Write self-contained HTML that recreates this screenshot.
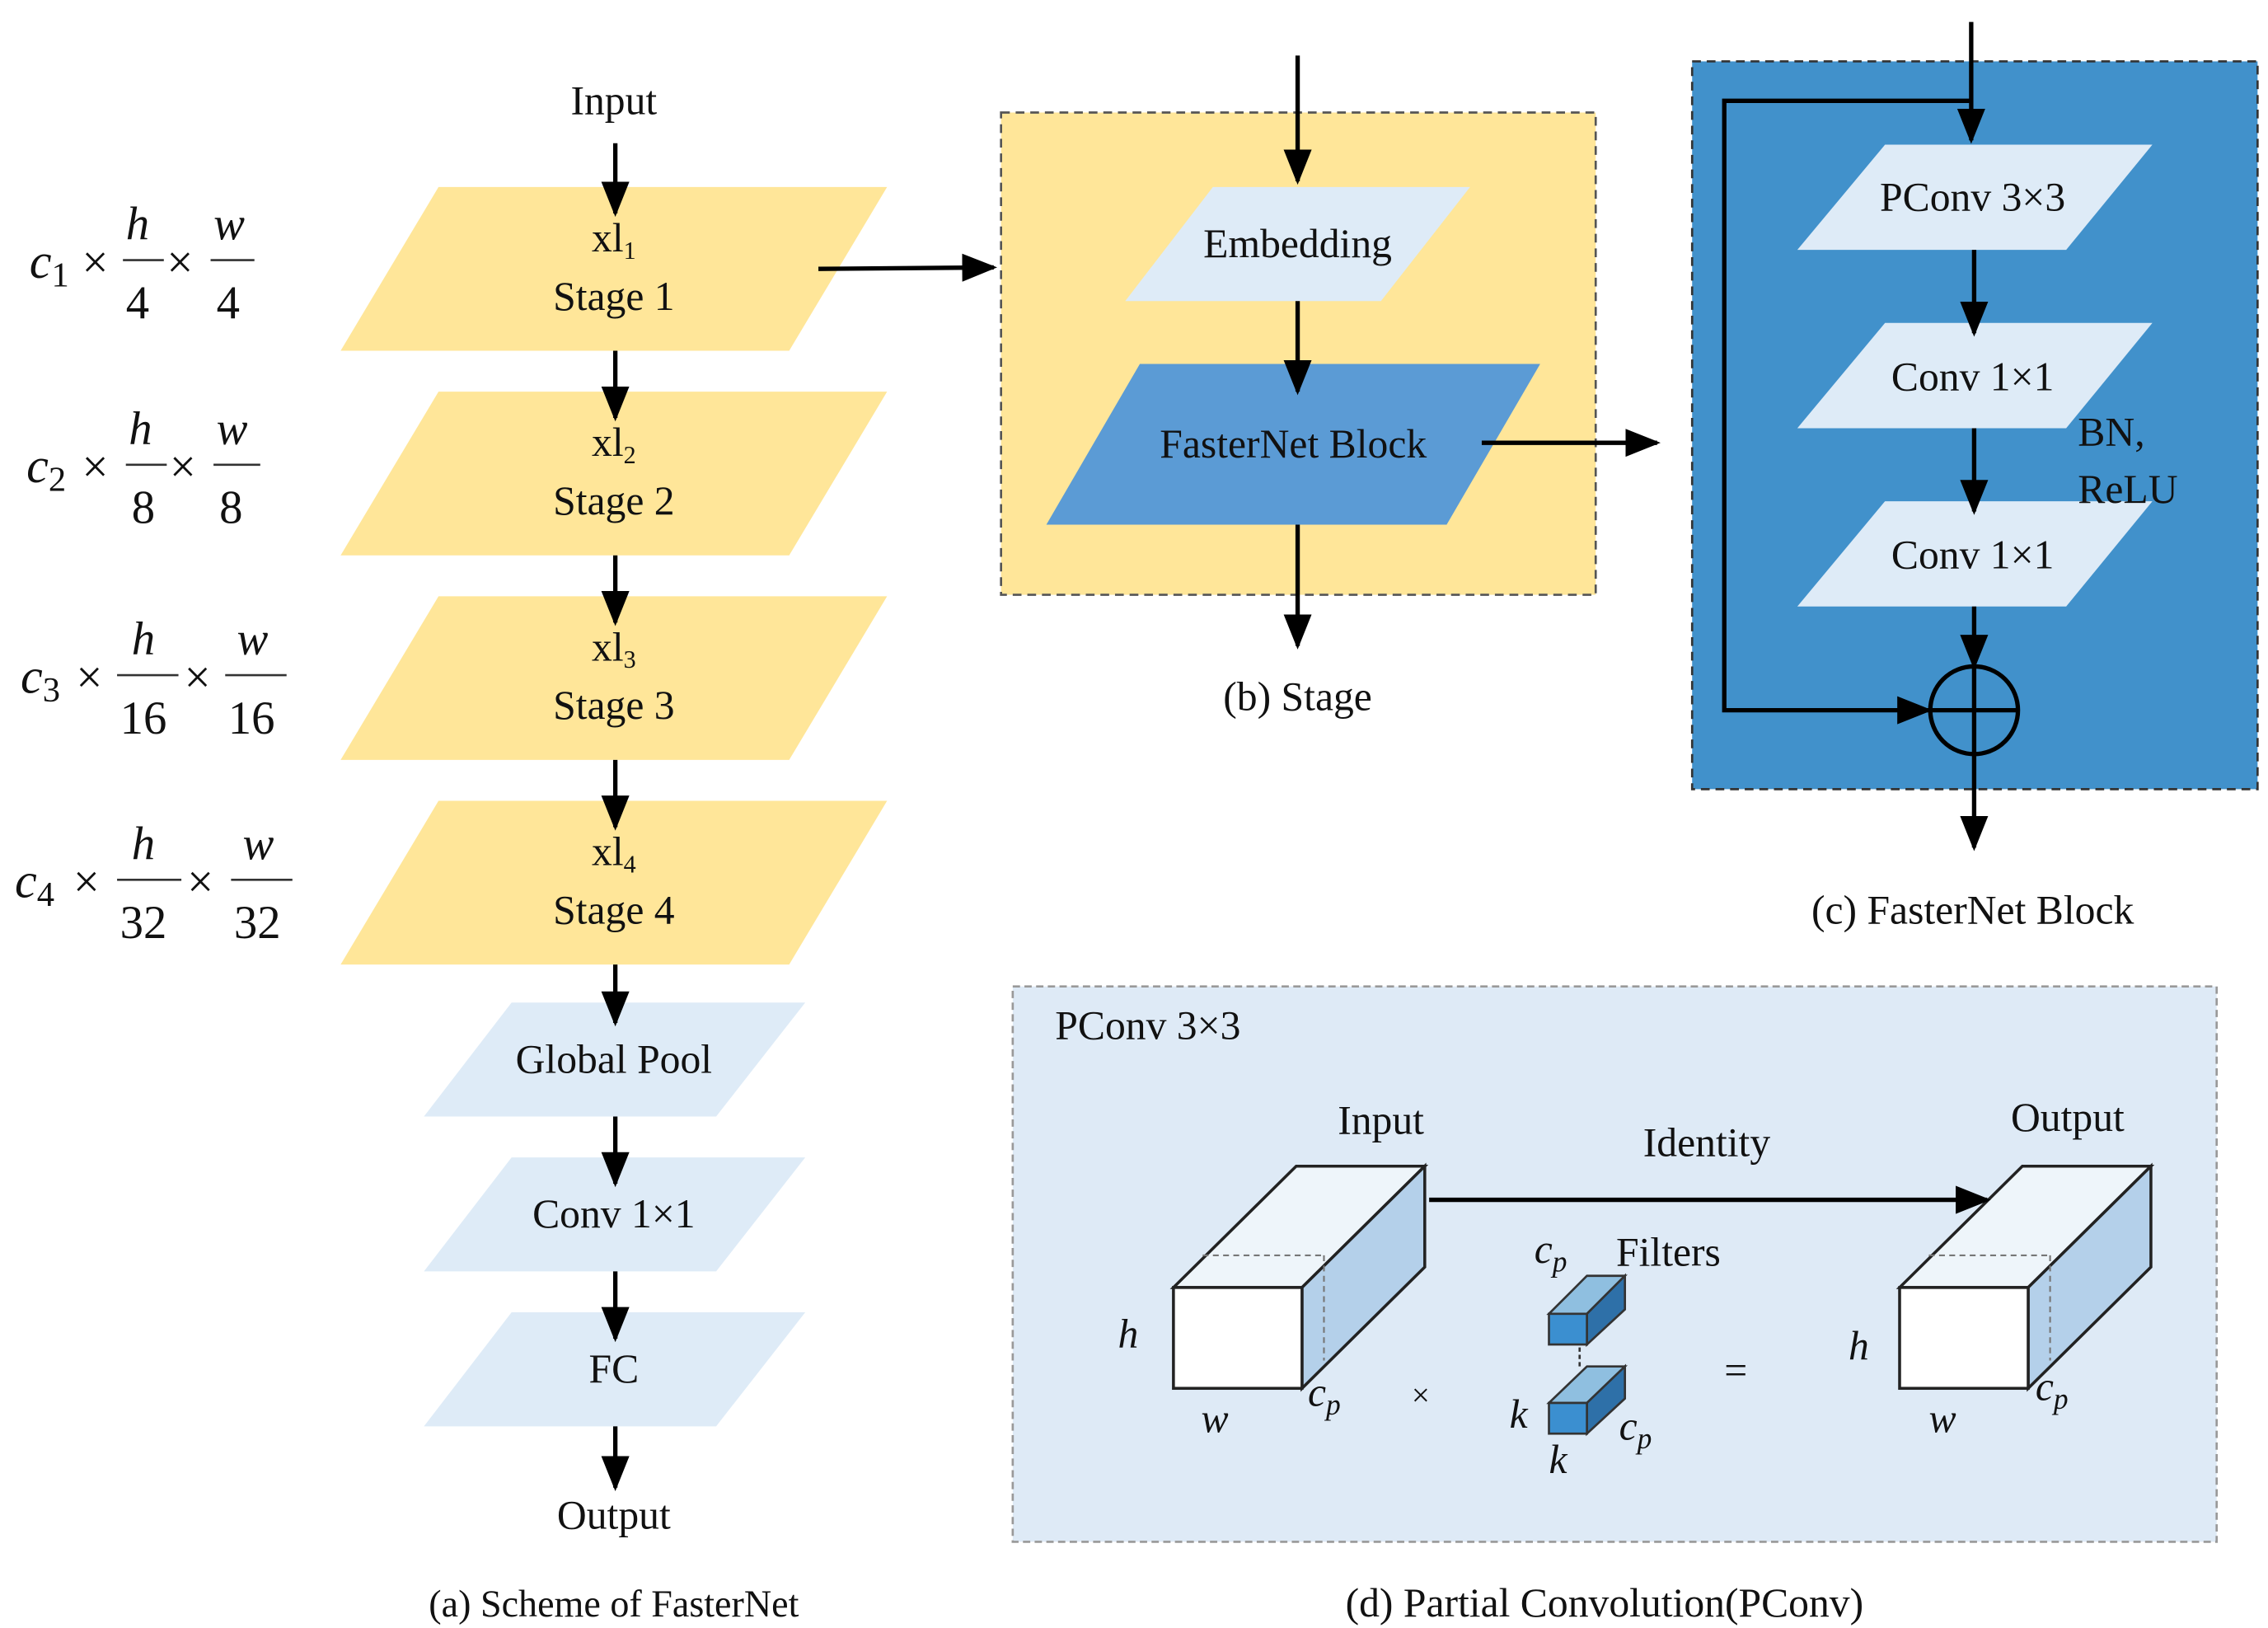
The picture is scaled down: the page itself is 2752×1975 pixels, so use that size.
<!DOCTYPE html>
<html><head><meta charset="utf-8"><style>html,body{margin:0;padding:0;background:#fff}svg{display:block}svg text{font-family:"Liberation Serif","DejaVu Serif","Times New Roman",serif !important}</style></head>
<body>
<svg width="2752" height="1975" viewBox="0 0 1552 1114" xmlns="http://www.w3.org/2000/svg" style="font-family:'Liberation Serif','DejaVu Serif',serif">
<defs>
<marker id="b" viewBox="0 0 10 10" refX="9" refY="5" markerWidth="24" markerHeight="24" markerUnits="userSpaceOnUse" orient="auto"><path d="M0,1L10,5L0,9z" fill="#000"/></marker></defs>
<g font-size="28" fill="#111">
<text x="420" y="78" text-anchor="middle">Input</text>
<g fill="#FFE699">
<polygon points="300,128 607,128 540,240 233,240"/>
<polygon points="300,268 607,268 540,380 233,380"/>
<polygon points="300,408 607,408 540,520 233,520"/>
<polygon points="300,548 607,548 540,660 233,660"/>
</g>
<text x="420" y="172" text-anchor="middle">xl<tspan font-size="17" dy="5">1</tspan></text><text x="420" y="212" text-anchor="middle">Stage 1</text>
<text x="420" y="312" text-anchor="middle">xl<tspan font-size="17" dy="5">2</tspan></text><text x="420" y="352" text-anchor="middle">Stage 2</text>
<text x="420" y="452" text-anchor="middle">xl<tspan font-size="17" dy="5">3</tspan></text><text x="420" y="492" text-anchor="middle">Stage 3</text>
<text x="420" y="592" text-anchor="middle">xl<tspan font-size="17" dy="5">4</tspan></text><text x="420" y="632" text-anchor="middle">Stage 4</text>
<g fill="#DEEBF7">
<polygon points="350,686 551,686 490,764 290,764"/>
<polygon points="350,792 551,792 490,870 290,870"/>
<polygon points="350,898 551,898 490,976 290,976"/>
</g>
<text x="420" y="734" text-anchor="middle">Global Pool</text>
<text x="420" y="840" text-anchor="middle">Conv 1×1</text>
<text x="420" y="946" text-anchor="middle">FC</text>
<text x="420" y="1046" text-anchor="middle">Output</text>
<g stroke="#000" stroke-width="3" marker-end="url(#b)">
<line x1="421" y1="98" x2="421" y2="146"/>
<line x1="421" y1="240" x2="421" y2="286"/><line x1="421" y1="380" x2="421" y2="426"/><line x1="421" y1="520" x2="421" y2="566"/><line x1="421" y1="660" x2="421" y2="700"/>
<line x1="421" y1="764" x2="421" y2="810"/><line x1="421" y1="870" x2="421" y2="916"/><line x1="421" y1="976" x2="421" y2="1018"/>
<line x1="560" y1="184" x2="680" y2="183"/>
</g>
<text x="420" y="1106" text-anchor="middle" font-size="26">(a) Scheme of FasterNet</text>
<g font-size="34" font-style="italic">
<text x="20" y="190">c<tspan font-size="24" dy="6" font-style="normal">1</tspan></text>
<text x="18" y="330">c<tspan font-size="24" dy="6" font-style="normal">2</tspan></text>
<text x="14" y="474">c<tspan font-size="24" dy="6" font-style="normal">3</tspan></text>
<text x="10" y="614">c<tspan font-size="24" dy="6" font-style="normal">4</tspan></text>
</g>
<g font-size="32">
<text x="56" y="190">×</text><text x="114" y="190">×</text>
<text x="56" y="330">×</text><text x="116" y="330">×</text>
<text x="52" y="474">×</text><text x="126" y="474">×</text>
<text x="50" y="614">×</text><text x="128" y="614">×</text>
<g font-style="italic"><text x="86" y="164">h</text><text x="146" y="164">w</text>
<text x="88" y="304">h</text><text x="148" y="304">w</text>
<text x="90" y="448">h</text><text x="162" y="448">w</text>
<text x="90" y="588">h</text><text x="166" y="588">w</text></g>
<text x="86" y="218">4</text><text x="148" y="218">4</text>
<text x="90" y="358">8</text><text x="150" y="358">8</text>
<text x="82" y="502">16</text><text x="156" y="502">16</text>
<text x="82" y="642">32</text><text x="160" y="642">32</text>
</g>
<g stroke="#333" stroke-width="1.5">
<line x1="84" y1="178" x2="112" y2="178"/><line x1="144" y1="178" x2="174" y2="178"/>
<line x1="86" y1="318" x2="114" y2="318"/><line x1="146" y1="318" x2="178" y2="318"/>
<line x1="80" y1="462" x2="122" y2="462"/><line x1="154" y1="462" x2="196" y2="462"/>
<line x1="80" y1="602" x2="124" y2="602"/><line x1="158" y1="602" x2="200" y2="602"/>
</g>
<rect x="685" y="77" width="407" height="330" fill="#FFE699" stroke="#555" stroke-width="1.5" stroke-dasharray="6,4"/>
<polygon points="830,128 1006,128 945,206 770,206" fill="#DEEBF7"/>
<polygon points="780,249 1054,249 990,359 716,359" fill="#5B9BD5"/>
<text x="888" y="176" text-anchor="middle">Embedding</text>
<text x="885" y="313" text-anchor="middle">FasterNet Block</text>
<g stroke="#000" stroke-width="3" marker-end="url(#b)">
<line x1="888" y1="38" x2="888" y2="124"/><line x1="888" y1="206" x2="888" y2="268"/><line x1="888" y1="359" x2="888" y2="442"/>
<line x1="1014" y1="303" x2="1134" y2="303"/>
</g>
<text x="888" y="486" text-anchor="middle">(b) Stage</text>
<rect x="1158" y="42" width="387" height="498" fill="#4191CB" stroke="#333" stroke-width="1.5" stroke-dasharray="6,4"/>
<g fill="#DEEBF7">
<polygon points="1290,99 1473,99 1414,171 1230,171"/>
<polygon points="1290,221 1473,221 1414,293 1230,293"/>
<polygon points="1290,343 1473,343 1414,415 1230,415"/>
</g>
<text x="1350" y="144" text-anchor="middle">PConv 3×3</text>
<text x="1350" y="267" text-anchor="middle">Conv 1×1</text>
<text x="1350" y="389" text-anchor="middle">Conv 1×1</text>
<text x="1422" y="305">BN,</text><text x="1422" y="344">ReLU</text>
<g stroke="#000" stroke-width="3" fill="none">
<line x1="1349" y1="15" x2="1349" y2="96" marker-end="url(#b)"/>
<polyline points="1349,69 1180,69 1180,486 1320,486" marker-end="url(#b)"/>
<line x1="1351" y1="171" x2="1351" y2="228" marker-end="url(#b)"/>
<line x1="1351" y1="293" x2="1351" y2="350" marker-end="url(#b)"/>
<line x1="1351" y1="415" x2="1351" y2="456" marker-end="url(#b)"/>
<ellipse cx="1351" cy="486" rx="30" ry="30"/>
<line x1="1321" y1="486" x2="1381" y2="486"/>
<line x1="1351" y1="456" x2="1351" y2="580" marker-end="url(#b)"/>
</g>
<text x="1350" y="632" text-anchor="middle">(c) FasterNet Block</text>
<rect x="693" y="675" width="824" height="380" fill="#DEEAF6" stroke="#999" stroke-width="1.5" stroke-dasharray="5,3"/>
<text x="722" y="711">PConv 3×3</text>
<text x="945" y="776" text-anchor="middle">Input</text>
<text x="1168" y="791" text-anchor="middle">Identity</text>
<text x="1415" y="774" text-anchor="middle">Output</text>
<g stroke="#222" stroke-width="2">
<polygon points="803,881 891,881 975,798 887,798" fill="#EEF5FA"/>
<polygon points="891,881 975,798 975,867 891,950" fill="#B4D0EA"/>
<rect x="803" y="881" width="88" height="69" fill="#fff"/>
<polygon points="1300,881 1388,881 1472,798 1384,798" fill="#EEF5FA"/>
<polygon points="1388,881 1472,798 1472,867 1388,950" fill="#B4D0EA"/>
<rect x="1300" y="881" width="88" height="69" fill="#fff"/>
</g>
<g stroke="#777" stroke-width="1.2" stroke-dasharray="4,3">
<line x1="823" y1="859" x2="906" y2="859"/><line x1="906" y1="859" x2="906" y2="931"/>
<line x1="1320" y1="859" x2="1403" y2="859"/><line x1="1403" y1="859" x2="1403" y2="931"/>
</g>
<line x1="978" y1="821" x2="1360" y2="821" stroke="#000" stroke-width="3" marker-end="url(#b)"/>
<g stroke="#333" stroke-width="1.5">
<polygon points="1060,899 1086,899 1112,873 1086,873" fill="#8FBFE0"/>
<polygon points="1086,899 1112,873 1112,896 1086,920" fill="#2E70A8"/>
<rect x="1060" y="899" width="26" height="21" fill="#3B8FD0"/>
<polygon points="1060,960 1086,960 1112,935 1086,935" fill="#8FBFE0"/>
<polygon points="1086,960 1112,935 1112,957 1086,981" fill="#2E70A8"/>
<rect x="1060" y="960" width="26" height="21" fill="#3B8FD0"/>
<line x1="1081" y1="922" x2="1081" y2="936" stroke-dasharray="3,2"/>
</g>
<g font-style="italic" font-size="28">
<text x="765" y="922">h</text><text x="822" y="980">w</text><text x="895" y="962">c<tspan font-size="20" dy="6">p</tspan></text>
<text x="1265" y="930">h</text><text x="1320" y="980">w</text><text x="1393" y="958">c<tspan font-size="20" dy="6">p</tspan></text>
<text x="1050" y="864">c<tspan font-size="20" dy="6">p</tspan></text>
<text x="1033" y="977">k</text><text x="1060" y="1008">k</text>
<text x="1108" y="985">c<tspan font-size="20" dy="6">p</tspan></text>
</g>
<text x="1106" y="866">Filters</text>
<text x="966" y="962" font-size="22">×</text>
<text x="1180" y="947">=</text>
<text x="1098" y="1106" text-anchor="middle">(d) Partial Convolution(PConv)</text>
</g>
</svg>
</body></html>
